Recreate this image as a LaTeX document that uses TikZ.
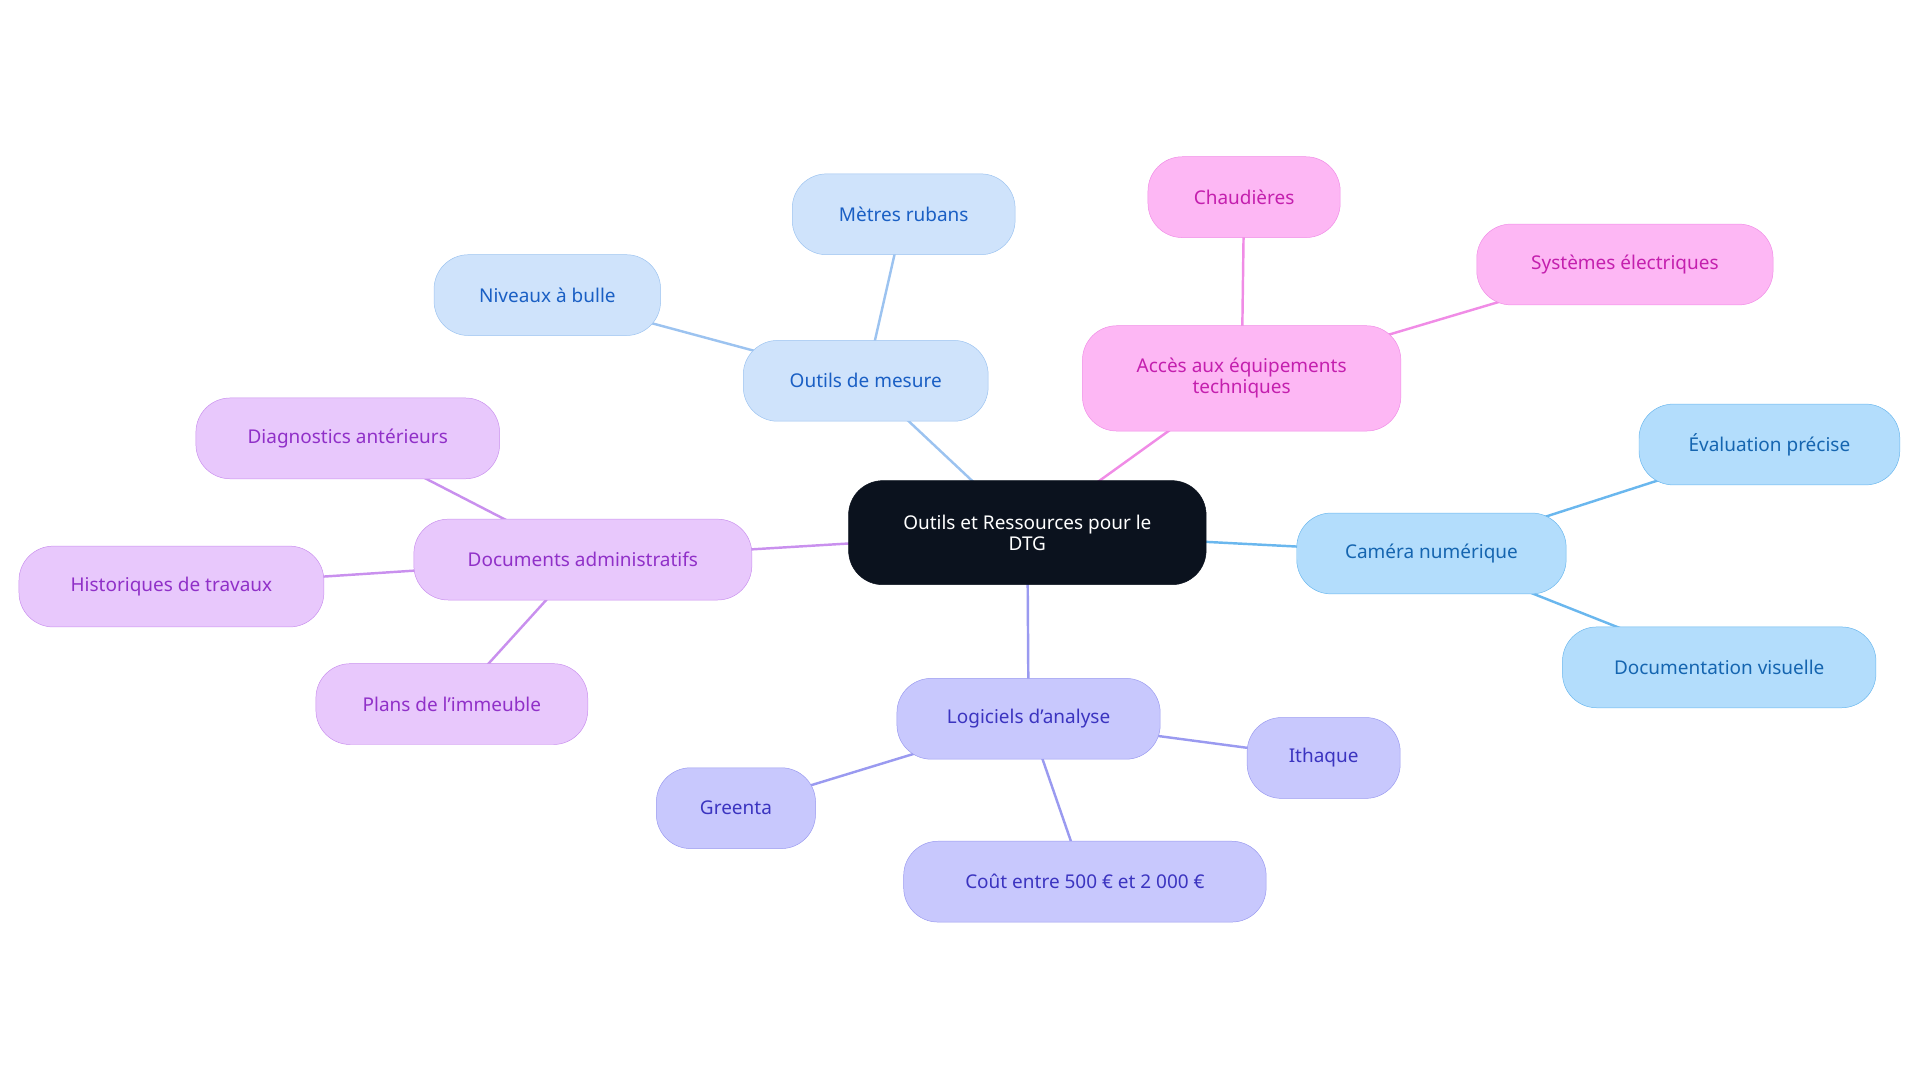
\documentclass[tikz,border=0pt]{standalone}
\usepackage{fontspec}
\setmainfont{Noto Sans}
\usetikzlibrary{backgrounds}
\definecolor{rootfill}{HTML}{0B121E}
\definecolor{mesfill}{HTML}{CFE3FB}\definecolor{mesline}{HTML}{9CC3F0}\definecolor{mestext}{HTML}{1A5FC4}
\definecolor{accfill}{HTML}{FDB7F4}\definecolor{accline}{HTML}{F08CE6}\definecolor{acctext}{HTML}{C41FAE}
\definecolor{camfill}{HTML}{B3DDFC}\definecolor{camline}{HTML}{6AB7EE}\definecolor{camtext}{HTML}{1565B0}
\definecolor{logfill}{HTML}{C8C8FD}\definecolor{logline}{HTML}{9A9AF0}\definecolor{logtext}{HTML}{3B34C0}
\definecolor{docfill}{HTML}{E8C8FC}\definecolor{docline}{HTML}{C990EE}\definecolor{doctext}{HTML}{9030C8}
\tikzset{
  box/.style={rounded corners=28pt, minimum height=66pt, align=center,
    font=\fontsize{15.5}{17}\selectfont, inner sep=0pt},
  mes/.style={box, fill=mesfill, draw=mesline, text=mestext},
  acc/.style={box, fill=accfill, draw=accline, text=acctext},
  cam/.style={box, fill=camfill, draw=camline, text=camtext},
  log/.style={box, fill=logfill, draw=logline, text=logtext},
  doc/.style={box, fill=docfill, draw=docline, text=doctext},
  link/.style={line width=2pt}
}
\begin{document}
\begin{tikzpicture}[x=1pt,y=-1pt]
  \useasboundingbox (0,0) rectangle (1568,884);
  \node[box, fill=rootfill, text=white, draw=rootfill, minimum width=292pt, minimum height=85pt] (root) at (839,435) {Outils et Ressources pour le\\DTG};

  \node[mes, minimum width=200pt] (mesure) at (707,311) {Outils de mesure};
  \node[mes, minimum width=182pt] (metres) at (738,175) {Mètres rubans};
  \node[mes, minimum width=185pt] (niveaux) at (447,241) {Niveaux à bulle};

  \node[acc, minimum width=260pt, minimum height=86pt] (acces) at (1014,309) {Accès aux équipements\\techniques};
  \node[acc, minimum width=157pt] (chaud) at (1016,161) {Chaudières};
  \node[acc, minimum width=242pt] (elec) at (1327,216) {Systèmes électriques};

  \node[cam, minimum width=220pt] (camera) at (1169,452) {Caméra numérique};
  \node[cam, minimum width=213pt] (eval) at (1445,363) {Évaluation précise};
  \node[cam, minimum width=256pt] (visu) at (1404,545) {Documentation visuelle};

  \node[log, minimum width=215pt] (logic) at (840,587) {Logiciels d'analyse};
  \node[log, minimum width=125pt] (ithaque) at (1081,619) {Ithaque};
  \node[log, minimum width=130pt] (greenta) at (601,660) {Greenta};
  \node[log, minimum width=296pt] (cout) at (886,720) {Coût entre 500 € et 2 000 €};

  \node[doc, minimum width=276pt] (admin) at (476,457) {Documents administratifs};
  \node[doc, minimum width=248pt] (diag) at (284,358) {Diagnostics antérieurs};
  \node[doc, minimum width=249pt] (histo) at (140,479) {Historiques de travaux};
  \node[doc, minimum width=222pt] (plans) at (369,575) {Plans de l'immeuble};

  \begin{scope}[on background layer]
    \draw[link, mesline] (root.center) -- (mesure.center) -- (metres.center);
    \draw[link, mesline] (mesure.center) -- (niveaux.center);
    \draw[link, accline] (root.center) -- (acces.center) -- (chaud.center);
    \draw[link, accline] (acces.center) -- (elec.center);
    \draw[link, camline] (root.center) -- (camera.center) -- (eval.center);
    \draw[link, camline] (camera.center) -- (visu.center);
    \draw[link, logline] (root.center) -- (logic.center) -- (ithaque.center);
    \draw[link, logline] (logic.center) -- (greenta.center);
    \draw[link, logline] (logic.center) -- (cout.center);
    \draw[link, docline] (root.center) -- (admin.center) -- (diag.center);
    \draw[link, docline] (admin.center) -- (histo.center);
    \draw[link, docline] (admin.center) -- (plans.center);
  \end{scope}
\end{tikzpicture}
\end{document}
